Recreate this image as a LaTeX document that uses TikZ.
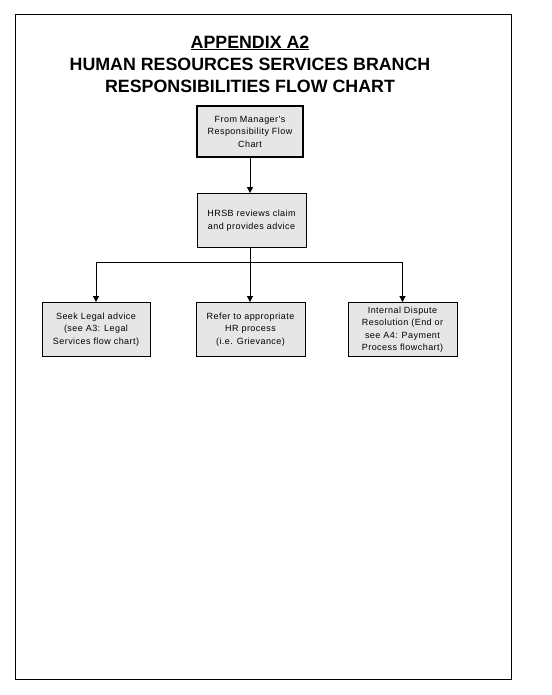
\documentclass[tikz,border=0pt]{standalone}
\usepackage{fontspec}
\setmainfont{Liberation Sans}
\newfontfamily\boxfont[LetterSpace=5]{Liberation Sans}
\usetikzlibrary{arrows.meta}
\definecolor{boxgrey}{HTML}{E6E6E6}
\begin{document}
\begin{tikzpicture}[x=1pt,y=-1pt,
  stepbox/.style={draw=black,fill=boxgrey,line width=0.9pt,minimum width=109pt,minimum height=54pt,align=center,font=\boxfont\fontsize{9}{12.5}\selectfont,inner sep=2pt},
  conn/.style={line width=0.9pt,-{Triangle[length=6pt,width=6pt]}},
  title/.style={font=\fontsize{17.8}{20}\bfseries\selectfont}]
\useasboundingbox (0,0) rectangle (551,695);
\draw[line width=1pt] (15,15) rectangle (511,679);
\node[title] (t1) at (250,43) {\underline{APPENDIX A2}};
\node[title] (t2) at (250,64) {HUMAN RESOURCES SERVICES BRANCH};
\node[title] (t3) at (250,86) {RESPONSIBILITIES FLOW CHART};
\node[stepbox,line width=2.6pt,minimum width=106pt,minimum height=51pt] (a) at (250,131.5) {From Manager's\\Responsibility Flow\\Chart};
\node[stepbox] (b) at (251.5,220.5) {HRSB reviews claim\\and provides advice};
\node[stepbox,minimum width=108pt] (c1) at (96,329.5) {Seek Legal advice\\(see A3: Legal\\Services flow chart)};
\node[stepbox] (c2) at (250.5,329.5) {Refer to appropriate\\HR process\\(i.e. Grievance)};
\node[stepbox] (c3) at (402.5,329.5) {Internal Dispute\\Resolution (End or\\see A4: Payment\\Process flowchart)};
\coordinate (j) at (250,262);
\draw[conn] (a.south -| 250,0) -- (b.north -| 250,0);
\draw[line width=0.9pt] (b.south -| 250,0) -- (j);
\draw[conn] (j) -- (c2.north -| j);
\draw[conn] (j) -| (c1.north);
\draw[conn] (j) -| (c3.north);
\end{tikzpicture}
\end{document}
